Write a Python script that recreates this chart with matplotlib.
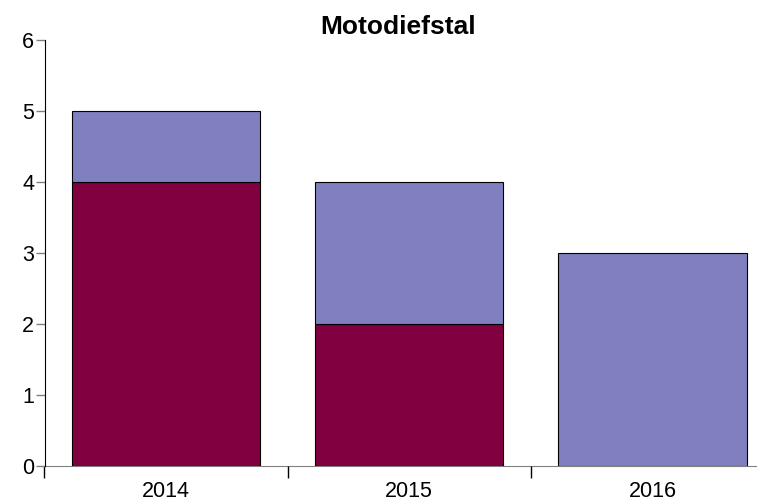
import matplotlib
matplotlib.use("Agg")
from matplotlib import pyplot as plt
import numpy as np

plt.rcParams.update({
    "font.family": ["Liberation Sans", "DejaVu Sans"],
    "font.size": 15.5,
})

years = ["2014", "2015", "2016"]
bottom_vals = [4, 2, 0]
top_vals = [1, 2, 3]

fig = plt.figure(figsize=(7.57, 5.03), dpi=100)
# axes run a little past the right edge, like the original
ax = fig.add_axes([44.5 / 757, 37 / 503, 729.5 / 757, 426 / 503])

x = np.arange(len(years))
ax.bar(x, bottom_vals, width=0.775, color="#800040", edgecolor="black", linewidth=0.8)
ax.bar(x, top_vals, width=0.775, bottom=bottom_vals, color="#8080C0",
       edgecolor="black", linewidth=0.8)

ax.set_xlim(-0.5, len(years) - 0.5)
ax.set_ylim(0, 6)
ax.set_xticks(x)
ax.set_xticklabels(years)
ax.set_xticks(np.arange(len(years) + 1) - 0.5, minor=True)
ax.tick_params(axis="x", which="major", length=0, pad=11)
ax.tick_params(axis="x", which="minor", length=8.5, color="black", width=1)
ax.set_yticks(range(7))
ax.tick_params(axis="y", length=6.5, width=1, color="#808080", pad=1)

for s in ["top", "right"]:
    ax.spines[s].set_visible(False)
ax.spines["bottom"].set_color("#808080")
ax.spines["left"].set_color("black")
ax.spines["bottom"].set_zorder(0)

fig.text(398 / 757, 1 - 27 / 503, "Motodiefstal", ha="center", va="center",
         fontsize=19, fontweight="bold")

fig.savefig("out.png", dpi=100)
